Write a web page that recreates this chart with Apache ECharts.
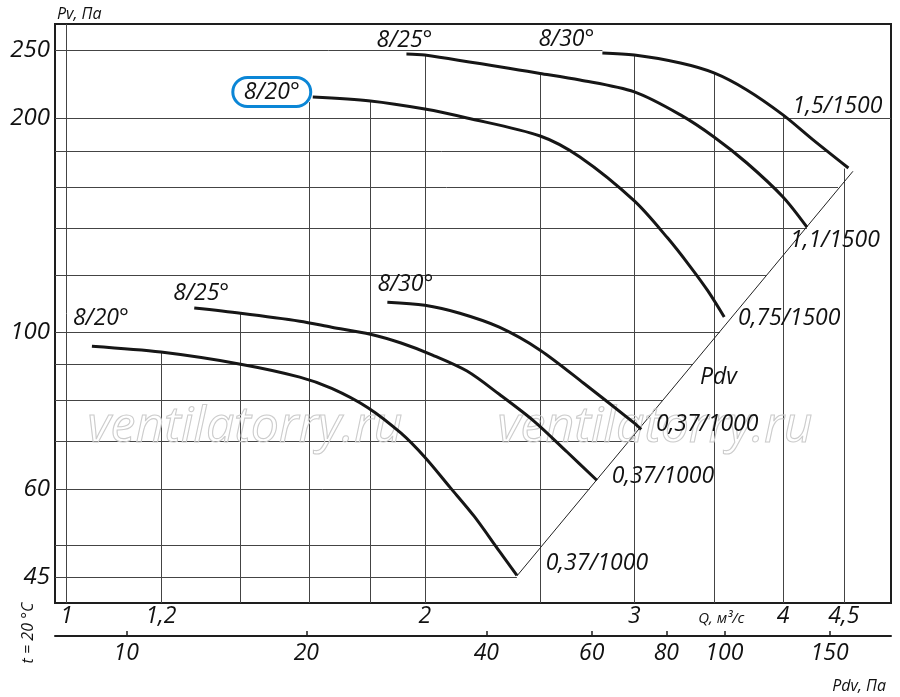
<!DOCTYPE html>
<html>
<head>
<meta charset="utf-8">
<title>Pv - Q</title>
<script src="https://cdn.jsdelivr.net/npm/echarts@6/dist/echarts.min.js"></script>
<style>
	* { margin: 0; padding: 0; border: 0; }
	html, body { width: 100%; height: 100%; background: #fff; }
	#main { width: 900px; height: 697px; }
</style>
</head>
<body>
<div id="main"></div>
<script type="text/javascript">
	// fan curves, Q in m3/s and Pv in Pa
	var curveNames = ['8/20°', '8/25°', '8/30°', '8/20°', '8/25°', '8/30°'];
	var motorNames = ['0,37/1000', '0,37/1000', '0,37/1000', '0,75/1500', '1,1/1500', '1,5/1500'];

	var q1  = [1.05, 1.2, 1.4, 1.57, 1.67, 1.79, 1.91, 2.0, 2.1, 2.2, 2.31, 2.39];
	var pv1 = [95.4, 93.6, 90, 86.3, 83.2, 78.2, 71.9, 66.5, 60.3, 54.9, 49.0, 45.3];
	var q2  = [1.28, 1.4, 1.57, 1.67, 1.8, 1.91, 2.03, 2.17, 2.31, 2.47, 2.63, 2.79];
	var pv2 = [108, 106.2, 103.5, 101.5, 99.2, 96.4, 92.7, 88.0, 81.6, 74.8, 67.8, 61.7];
	var q3  = [1.86, 2.0, 2.14, 2.31, 2.5, 2.72, 3.0, 3.04];
	var pv3 = [110.1, 109, 106.2, 101.5, 94.2, 84.6, 74.3, 72.8];
	var q4  = [1.61, 1.8, 2.0, 2.17, 2.5, 2.7, 3.0, 3.2, 3.34, 3.46, 3.57];
	var pv4 = [214.5, 211.8, 206.3, 200.4, 189, 176.5, 153, 135.6, 123.8, 114.1, 104.9];
	var q5  = [1.93, 2.0, 2.5, 2.7, 3.0, 3.28, 3.5, 3.73, 4.0, 4.19];
	var pv5 = [246.7, 245.9, 231.6, 226.7, 218.1, 202.4, 188.4, 173.1, 155, 140.5];
	var q6  = [2.82, 3.0, 3.28, 3.5, 3.73, 4.0, 4.24, 4.54];
	var pv6 = [247.6, 245.9, 239.6, 232, 219.5, 202.4, 186.6, 170.3];

	// Pdv line
	var pdvLineQ  = [2.39, 4.58];
	var pdvLinePv = [45.2, 168.5];
	var pdvTextAt = [3.53, 86.3];

	// grid lines, clipped to the curve envelope
	var qGrid     = [1, 1.2, 1.4, 1.6, 1.8, 2, 2.5, 3, 3.5, 4, 4.5];
	var qGridTop  = [272, 93.6, 106.2, 211, 211.8, 245.9, 231.6, 245.9, 232, 202.4, 170];
	var pvGrid    = [250, 200, 180, 160, 140, 120, 100, 90, 80, 70, 60, 50, 45];
	var pvGridEnd = [2.82, 4.93, 4.36, 4.45, 4.19, 3.87, 3.54, 3.36, 3.17, 3.0, 2.75, 2.5, 2.39];

	// tick labels
	var qLabels   = [1, 1.2, 2, 3, 4, 4.5];
	var qNameAt   = 3.55;
	var pvLabels  = [45, 60, 100, 200, 250];
	var pdvLabels = [10, 20, 40, 60, 80, 100, 150];

	var Q_MIN = 0.9776, Q_MAX = 4.93;
	var PV_MIN = 41.4, PV_MAX = 272;
	var PDV_MIN = 7.6, PDV_MAX = 190;

	// label offsets (px) for start / end texts
	var startOffsets = [[9, -28], [7, -15], [18, -18], [-41, -5], [-2, -14], [-36, -13]];
	var endOffsets   = [[80, -12], [66, -4], [66, -5], [65, 1], [28, 13], [-11, -62]];

	var FONT = 'Open Sans';
	var INK = '#111';

	function fmtNum(v) {
		var r = Math.round(v * 100) / 100;
		return String(r).replace('.', ',');
	}

	var curvesQ = [q1, q2, q3, q4, q5, q6];
	var curvesPv = [pv1, pv2, pv3, pv4, pv5, pv6];

	var series = [];

	// grid lines
	var gridSegs = [];
	for (var i = 0; i < qGrid.length; i++) {
		gridSegs.push({ coords: [[qGrid[i], PV_MIN], [qGrid[i], qGridTop[i]]] });
	}
	for (var i = 0; i < pvGrid.length; i++) {
		gridSegs.push({ coords: [[Q_MIN, pvGrid[i]], [pvGridEnd[i], pvGrid[i]]] });
	}
	series.push({
		type: 'lines',
		coordinateSystem: 'cartesian2d',
		xAxisIndex: 0, yAxisIndex: 0,
		silent: true,
		z: 1,
		lineStyle: { color: '#444', width: 1, opacity: 1 },
		data: gridSegs
	});
	series.push({
		type: 'lines',
		coordinateSystem: 'cartesian2d',
		xAxisIndex: 0, yAxisIndex: 0,
		silent: true,
		z: 1,
		lineStyle: { color: '#222', width: 1, opacity: 1 },
		data: [{ coords: [[pdvLineQ[0], pdvLinePv[0]], [pdvLineQ[1], pdvLinePv[1]]] }]
	});

	// curves
	for (var c = 0; c < curvesQ.length; c++) {
		var pts = [];
		for (var k = 0; k < curvesQ[c].length; k++) pts.push([curvesQ[c][k], curvesPv[c][k]]);
		series.push({
			name: curveNames[c] + ' ' + motorNames[c],
			type: 'line',
			xAxisIndex: 0, yAxisIndex: 0,
			smooth: 0.3,
			showSymbol: false,
			symbol: 'none',
			z: 3,
			lineStyle: { color: '#161616', width: 3 },
			data: pts
		});
	}

	// texts at curve ends
	var labelData = [];
	for (var c = 0; c < curvesQ.length; c++) {
		var n = curvesQ[c].length;
		var startLabel = {
			show: true, position: 'inside', offset: startOffsets[c],
			formatter: curveNames[c]
		};
		if (c === 3) {
			startLabel.borderColor = '#0b86d6';
			startLabel.borderWidth = 3;
			startLabel.borderRadius = 15;
			startLabel.padding = [1, 11, 1, 11];
			startLabel.lineHeight = 27;
		}
		labelData.push({ value: [curvesQ[c][0], curvesPv[c][0]], label: startLabel });
		labelData.push({
			value: [curvesQ[c][n - 1], curvesPv[c][n - 1]],
			label: { show: true, position: 'inside', offset: endOffsets[c], formatter: motorNames[c] }
		});
	}
	labelData.push({
		value: pdvTextAt,
		label: { show: true, position: 'inside', offset: [0, 0], formatter: 'Pdv' }
	});
	series.push({
		type: 'scatter',
		xAxisIndex: 0, yAxisIndex: 0,
		symbolSize: 1,
		silent: true,
		z: 4,
		itemStyle: { color: 'rgba(0,0,0,0)', opacity: 1 },
		label: {
			fontFamily: FONT, fontStyle: 'italic', fontSize: 23, color: INK,
			textBorderWidth: 0, textBorderColor: 'transparent',
			align: 'center', verticalAlign: 'middle'
		},
		data: labelData
	});

	var option = {
		animation: false,
		backgroundColor: '#fff',
		textStyle: { fontFamily: FONT },
		grid: {
			left: 55, right: 9, top: 24, bottom: 94,
			show: true, borderColor: '#1e1e1e', borderWidth: 2,
			backgroundColor: 'rgba(0,0,0,0)'
		},
		xAxis: [{
			type: 'log', logBase: 10, min: Q_MIN, max: Q_MAX,
			position: 'bottom',
			axisLine: { show: false, onZero: false },
			axisTick: { show: false },
			splitLine: { show: false },
			axisLabel: {
				customValues: qLabels.concat([qNameAt]),
				margin: 2,
				fontFamily: FONT, fontStyle: 'italic', fontSize: 23, color: INK,
				formatter: function (v) {
					if (Math.abs(v - qNameAt) < 0.01) return '{q|Q, м³/с}';
					return fmtNum(v);
				},
				rich: {
					q: { fontFamily: FONT, fontStyle: 'italic', fontSize: 15, color: INK, padding: [6, 0, 0, 0] }
				}
			}
		}, {
			type: 'log', logBase: 10, min: PDV_MIN, max: PDV_MAX,
			position: 'bottom', offset: 33,
			axisLine: { show: true, onZero: false, lineStyle: { color: '#1e1e1e', width: 2 } },
			axisTick: { show: true, inside: true, length: 5, customValues: pdvLabels, lineStyle: { color: '#1e1e1e', width: 1.5 } },
			splitLine: { show: false },
			axisLabel: {
				customValues: pdvLabels,
				margin: 6,
				fontFamily: FONT, fontStyle: 'italic', fontSize: 23, color: INK,
				formatter: function (v) { return fmtNum(v); }
			},
			name: 'Pdv, Па',
			nameLocation: 'end',
			nameGap: 0,
			nameTextStyle: {
				fontFamily: FONT, fontStyle: 'italic', fontSize: 16, color: INK,
				align: 'right', verticalAlign: 'top', padding: [42, 5, 0, 0]
			}
		}],
		yAxis: [{
			type: 'log', logBase: 10, min: PV_MIN, max: PV_MAX,
			axisLine: { show: false },
			axisTick: { show: false },
			splitLine: { show: false },
			axisLabel: {
				customValues: pvLabels,
				margin: 5,
				fontFamily: FONT, fontStyle: 'italic', fontSize: 24, color: INK,
				formatter: function (v) { return fmtNum(v); }
			},
			name: 'Pv, Па',
			nameLocation: 'end',
			nameGap: 2,
			nameTextStyle: {
				fontFamily: FONT, fontStyle: 'italic', fontSize: 16, color: INK,
				align: 'left', padding: [0, 0, 0, 2]
			}
		}],
		graphic: [{
			type: 'text', rotation: Math.PI / 2,
			x: 28, y: 633,
			style: {
				text: 't = 20 °C', fontFamily: FONT, fontStyle: 'italic', fontSize: 16, fill: INK,
				align: 'center', verticalAlign: 'middle'
			}
		}, {
			type: 'text', x: 245, y: 428, z: 2, silent: true,
			style: {
				text: 'ventilatorry.ru', fontFamily: FONT, fontStyle: 'italic', fontSize: 50,
				fill: 'rgba(255,255,255,0)', stroke: '#cccccc', lineWidth: 1.1,
				align: 'center', verticalAlign: 'middle'
			}
		}, {
			type: 'text', x: 655, y: 428, z: 2, silent: true,
			style: {
				text: 'ventilatorry.ru', fontFamily: FONT, fontStyle: 'italic', fontSize: 50,
				fill: 'rgba(255,255,255,0)', stroke: '#cccccc', lineWidth: 1.1,
				align: 'center', verticalAlign: 'middle'
			}
		}],
		series: series
	};

	var myChart = echarts.init(document.getElementById('main'));
	myChart.setOption(option);
</script>
</body>
</html>
